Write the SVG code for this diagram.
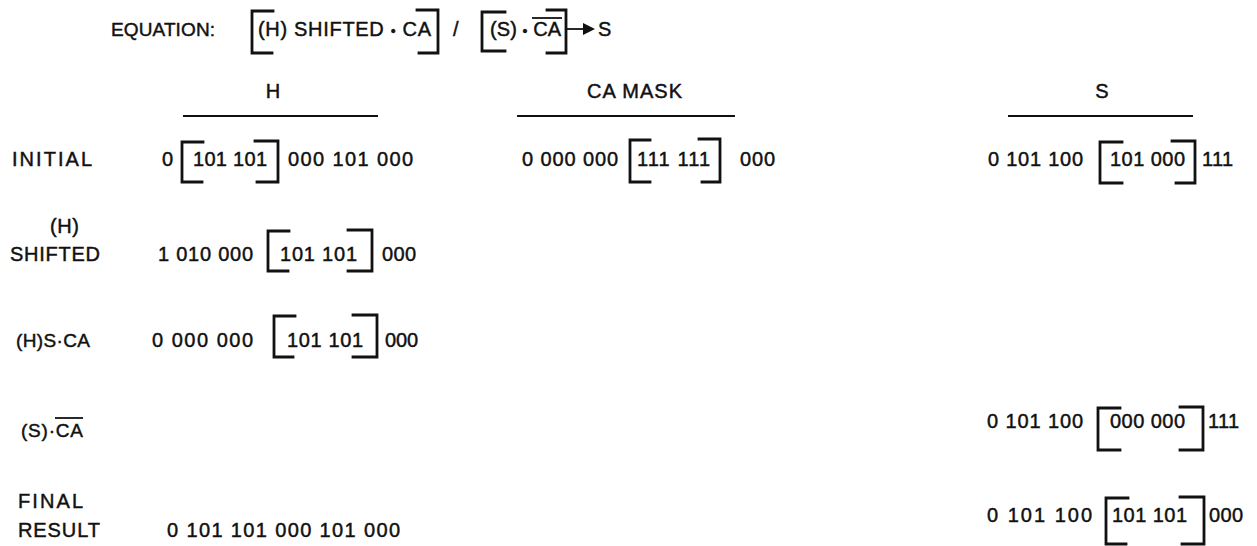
<svg xmlns="http://www.w3.org/2000/svg" width="1257" height="546" viewBox="0 0 1257 546">
<style>
text { font-family: "Liberation Sans", Arial, Helvetica, sans-serif; font-size: 20px; fill: #111; stroke: #111; stroke-width: 0.45; }
.sm { font-size: 19px; }
.br { fill: none; stroke: #111; stroke-width: 2.8; stroke-linecap: square; }
.rule { stroke: #111; stroke-width: 1.8; }
.dot { font-size: 14px; }
</style>
<rect width="1257" height="546" fill="#fff"/>
<g id="equation">
  <text class="sm" x="111" y="36" textLength="104">EQUATION:</text>
  <path class="br" d="M273 11 H252 V53 H272"/>
  <text x="258" y="36" textLength="173">(H) SHIFTED <tspan class="dot">•</tspan> CA</text>
  <path class="br" d="M417 10 H438 V53 H419"/>
  <text x="453" y="36">/</text>
  <path class="br" d="M505 12 H482 V51 H505"/>
  <text x="490" y="36" textLength="71">(S) <tspan class="dot">•</tspan> CA</text>
  <line class="rule" x1="532" y1="18" x2="562" y2="18" stroke-width="2.2"/>
  <path class="br" d="M547 10 H566 V53 H547"/>
  <line class="rule" x1="567" y1="29" x2="586" y2="29" stroke-width="2.6"/>
  <polygon points="583,23 595,29 583,35" fill="#111"/>
  <text x="598" y="36">S</text>
</g>
<g id="headers">
  <text x="273" y="98" text-anchor="middle">H</text>
  <line class="rule" x1="183" y1="116" x2="378" y2="116"/>
  <text x="587" y="98" textLength="95">CA MASK</text>
  <line class="rule" x1="517" y1="116" x2="735" y2="116"/>
  <text x="1102" y="98" text-anchor="middle">S</text>
  <line class="rule" x1="1008" y1="116" x2="1193" y2="116"/>
</g>
<g id="labels">
  <text x="12" y="166" textLength="80">INITIAL</text>
  <text x="50" y="233" textLength="29">(H)</text>
  <text x="10" y="261" textLength="90">SHIFTED</text>
  <text class="sm" x="16" y="347" textLength="74">(H)S·CA</text>
  <text class="sm" x="21" y="437" textLength="62">(S)·CA</text>
  <line class="rule" x1="55" y1="418" x2="83" y2="418" stroke-width="2"/>
  <text x="18" y="508" textLength="65">FINAL</text>
  <text x="18" y="537" textLength="82">RESULT</text>
</g>
<g id="row-initial">
  <text x="162" y="166">0</text>
  <path class="br" d="M203 142 H182 V182 H202"/>
  <text x="193" y="166" textLength="74">101 101</text>
  <path class="br" d="M255 141 H278 V182 H257"/>
  <text x="288" y="166" textLength="125">000 101 000</text>
  <text x="522" y="166" textLength="96">0 000 000</text>
  <path class="br" d="M650 140 H630 V182 H650"/>
  <text x="637" y="166" textLength="73">111 111</text>
  <path class="br" d="M699 139 H720 V182 H702"/>
  <text x="740" y="166" textLength="35">000</text>
  <text x="988" y="166" textLength="95">0 101 100</text>
  <path class="br" d="M1122 142 H1100 V183 H1122"/>
  <text x="1110" y="166" textLength="75">101 000</text>
  <path class="br" d="M1172 141 H1195 V183 H1176"/>
  <text x="1202" y="166" textLength="31">111</text>
</g>
<g id="row-shifted">
  <text x="158" y="261" textLength="95">1 010 000</text>
  <path class="br" d="M289 231 H268 V271 H288"/>
  <text x="280" y="261" textLength="77">101 101</text>
  <path class="br" d="M348 230 H372 V271 H348"/>
  <text x="382" y="261" textLength="34">000</text>
</g>
<g id="row-hsca">
  <text x="152" y="347" textLength="101">0 000 000</text>
  <path class="br" d="M295 316 H274 V357 H293"/>
  <text x="287" y="347" textLength="76">101 101</text>
  <path class="br" d="M353 315 H377 V357 H353"/>
  <text x="385" y="347" textLength="33">000</text>
</g>
<g id="row-sca">
  <text x="987" y="428" textLength="96">0 101 100</text>
  <path class="br" d="M1120 408 H1098 V450 H1120"/>
  <text x="1110" y="428" textLength="75">000 000</text>
  <path class="br" d="M1180 407 H1203 V450 H1180"/>
  <text x="1208" y="428" textLength="31">111</text>
</g>
<g id="row-final">
  <text x="167" y="537" textLength="233">0 101 101 000 101 000</text>
  <text x="987" y="522" textLength="105">0  101  100</text>
  <path class="br" d="M1128 498 H1106 V544 H1126"/>
  <text x="1112" y="522" textLength="75">101 101</text>
  <path class="br" d="M1180 497 H1204 V544 H1182"/>
  <text x="1209" y="522" textLength="34">000</text>
</g>
</svg>
